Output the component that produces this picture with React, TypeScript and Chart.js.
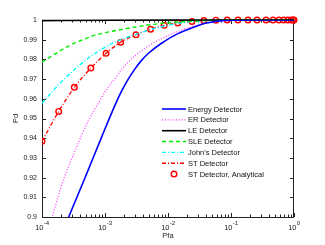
import React, { useEffect, useRef } from 'react';
import { Chart, registerables } from 'chart.js';

Chart.register(...registerables);

const FONT = '"Liberation Sans", Arial, Helvetica, sans-serif';

// ---- data (Pfa on log axis, Pd) ----
const energyPfa = [2.0e-4, 2.65e-4, 4.9e-4, 8.9e-4, 1.46e-3, 1.84e-3, 2.34e-3, 2.99e-3, 3.8e-3, 4.86e-3, 7.9e-3, 1.46e-2, 2.69e-2, 3.9e-2, 6.0e-2, 1.0e-1, 2.0e-1, 1];
const energyPd = [0.891, 0.9, 0.9205, 0.9408, 0.9572, 0.964, 0.97, 0.9752, 0.9795, 0.983, 0.9882, 0.9932, 0.9966, 0.9983, 0.9994, 0.9999, 1.0, 1.0];

const erPfa = [1.12e-4, 1.45e-4, 2.09e-4, 3.39e-4, 5.5e-4, 8.4e-4, 1.0e-3, 1.45e-3, 2.07e-3, 2.99e-3, 4.86e-3, 7.9e-3, 1.46e-2, 2.69e-2, 5.0e-2, 1.0e-1, 2.0e-1, 1];
const erPd = [0.8885, 0.9, 0.917, 0.934, 0.9492, 0.9594, 0.9635, 0.9705, 0.9768, 0.9818, 0.9868, 0.9905, 0.9943, 0.997, 0.9988, 0.9997, 1.0, 1.0];

const lePfa = [1e-4, 1e-3, 1e-2, 1e-1, 1];
const lePd = [0.9997, 0.9999, 1.0, 1.0, 1.0];

const slePfa = [1e-4, 1.62e-4, 2.63e-4, 4.9e-4, 7.4e-4, 2.34e-3, 7.9e-3, 2.69e-2, 6.3e-2, 1.6e-1, 1];
const slePd = [0.9786, 0.9828, 0.9868, 0.9905, 0.9925, 0.9958, 0.9983, 0.9995, 0.9999, 1.0, 1.0];

const johnPfa = [1e-4, 1.62e-4, 2.34e-4, 3.39e-4, 4.9e-4, 6.9e-4, 1.45e-3, 3.39e-3, 7.9e-3, 1.66e-2, 4.0e-2, 1.0e-1, 1];
const johnPd = [0.9577, 0.9653, 0.9705, 0.9753, 0.9795, 0.983, 0.9888, 0.9932, 0.9966, 0.9986, 0.9997, 1.0, 1.0];

const stPfa = [1e-4, 1.84e-4, 3.26e-4, 5.96e-4, 1.04e-3, 1.77e-3, 3.1e-3, 5.3e-3, 8.7e-3, 1.43e-2, 2.4e-2, 3.7e-2, 5.75e-2, 8.7e-2, 0.129, 0.186, 0.259, 0.36, 0.465, 0.578, 0.69, 0.8, 0.9, 0.965, 1];
const stPd = [0.9384, 0.9536, 0.9658, 0.9756, 0.9831, 0.9887, 0.9925, 0.9953, 0.9973, 0.9985, 0.9993, 0.9997, 0.9999, 1, 1, 1, 1, 1, 1, 1, 1, 1, 1, 1, 1];

const stAnaPfa = [1e-4, 1.84e-4, 3.26e-4, 5.96e-4, 1.04e-3, 1.77e-3, 3.1e-3, 5.3e-3, 8.7e-3, 1.43e-2, 2.4e-2, 3.7e-2, 5.75e-2, 8.7e-2, 0.129, 0.186, 0.259, 0.36, 0.465, 0.578, 0.69, 0.8, 0.9, 0.965, 1];
const stAnaPd = [0.9384, 0.9536, 0.9658, 0.9756, 0.9831, 0.9887, 0.9925, 0.9953, 0.9973, 0.9985, 0.9993, 0.9997, 0.9999, 1, 1, 1, 1, 1, 1, 1, 1, 1, 1, 1, 1];

const xTickExps = ['-4', '-3', '-2', '-1', '0'];
const xTickVals = [1e-4, 1e-3, 1e-2, 1e-1, 1];
const seriesNames = ['Energy Detector', 'ER Detector', 'LE Detector', 'SLE Detector', "John's Detector", 'ST Detector', 'ST Detector, Analytical'];
const xTitle = 'Pfa';
const yTitle = 'Pd';

const pts = (xs: number[], ys: number[]) => xs.map((x, i) => ({ x, y: ys[i] }));

const framePlugin = {
  id: 'matlabFrame',
  beforeDatasetsDraw(chart: any) {
    const { ctx, chartArea: a, scales } = chart;
    const x = scales.x;
    const y = scales.y;
    ctx.save();
    ctx.strokeStyle = '#222';
    ctx.lineWidth = 1;
    ctx.setLineDash([]);
    const line = (x1: number, y1: number, x2: number, y2: number) => {
      ctx.beginPath();
      ctx.moveTo(x1, y1);
      ctx.lineTo(x2, y2);
      ctx.stroke();
    };
    ctx.strokeRect(a.left + 0.5, a.top + 0.5, a.right - a.left - 1, a.bottom - a.top);
    for (let d = -4; d <= 0; d++) {
      for (let k = 1; k <= 9; k++) {
        const v = k * Math.pow(10, d);
        if (v > 1.0000001) break;
        const px = Math.round(x.getPixelForValue(v)) + 0.5;
        const len = k === 1 ? 4 : 2.5;
        line(px, a.bottom, px, a.bottom - len);
        line(px, a.top, px, a.top + len);
      }
    }
    y.ticks.forEach((t: any) => {
      const py = Math.round(y.getPixelForValue(t.value)) + 0.5;
      line(a.left, py, a.left + 4, py);
      line(a.right, py, a.right - 4, py);
    });
    ctx.restore();
  },
  afterDraw(chart: any) {
    const { ctx, chartArea: a, scales } = chart;
    const x = scales.x;
    ctx.save();
    ctx.fillStyle = '#222';
    // x tick labels 10^n
    xTickVals.forEach((v, i) => {
      const px = x.getPixelForValue(v);
      ctx.font = `7.5px ${FONT}`;
      const w1 = ctx.measureText('10').width;
      ctx.font = `6px ${FONT}`;
      const w2 = ctx.measureText(xTickExps[i]).width;
      const start = px - (w1 + w2) / 2;
      ctx.textAlign = 'left';
      ctx.textBaseline = 'alphabetic';
      ctx.font = `7.5px ${FONT}`;
      ctx.fillText('10', start, a.bottom + 12.5);
      ctx.font = `6px ${FONT}`;
      ctx.fillText(xTickExps[i], start + w1 + 0.3, a.bottom + 8);
    });
    // titles
    ctx.font = `7.5px ${FONT}`;
    ctx.textAlign = 'center';
    ctx.textBaseline = 'alphabetic';
    ctx.fillText(xTitle, (a.left + a.right) / 2, a.bottom + 21);
    ctx.save();
    ctx.translate(16, (a.top + a.bottom) / 2);
    ctx.rotate(-Math.PI / 2);
    ctx.textBaseline = 'middle';
    ctx.fillText(yTitle, 0, 0);
    ctx.restore();
    // legend
    const lx0 = a.left + 120;
    const lx1 = a.left + 144;
    const tx = a.left + 146;
    chart.data.datasets.forEach((ds: any, i: number) => {
      const ry = a.top + 89 + i * 10.85;
      ctx.save();
      if (ds.showLine === false) {
        ctx.strokeStyle = ds.pointBorderColor;
        ctx.lineWidth = ds.pointBorderWidth;
        ctx.beginPath();
        ctx.arc((lx0 + lx1) / 2, ry, ds.pointRadius, 0, Math.PI * 2);
        ctx.stroke();
      } else {
        ctx.strokeStyle = ds.borderColor;
        ctx.lineWidth = ds.borderWidth;
        ctx.setLineDash(ds.borderDash || []);
        ctx.beginPath();
        ctx.moveTo(lx0, ry);
        ctx.lineTo(lx1, ry);
        ctx.stroke();
      }
      ctx.restore();
      ctx.font = `7.5px ${FONT}`;
      ctx.textAlign = 'left';
      ctx.textBaseline = 'middle';
      ctx.fillStyle = '#111';
      ctx.fillText(ds.label, tx, ry + 0.5);
    });
    ctx.restore();
  },
};

export default function App() {
  const ref = useRef<HTMLCanvasElement>(null);
  useEffect(() => {
    const canvas = ref.current;
    if (!canvas) return;
    const topClip = { left: 0, right: 6, top: 6, bottom: 0 };
    const common = { pointRadius: 0, fill: false, cubicInterpolationMode: 'monotone' as const };
    const chart = new Chart(canvas, {
      type: 'line',
      data: {
        datasets: [
          { ...common, label: seriesNames[0], data: pts(energyPfa, energyPd), borderColor: '#0000ff', borderWidth: 1.6 },
          { ...common, label: seriesNames[1], data: pts(erPfa, erPd), borderColor: '#ff33ff', borderWidth: 1.2, borderDash: [1, 1.8] },
          { ...common, label: seriesNames[2], data: pts(lePfa, lePd), borderColor: '#000000', borderWidth: 1.6, clip: topClip },
          { ...common, label: seriesNames[3], data: pts(slePfa, slePd), borderColor: '#00ee00', borderWidth: 1.4, borderDash: [4, 3], clip: topClip },
          { ...common, label: seriesNames[4], data: pts(johnPfa, johnPd), borderColor: '#00ffff', borderWidth: 1.4, borderDash: [4, 2, 1, 2], clip: topClip },
          { ...common, label: seriesNames[5], data: pts(stPfa, stPd), borderColor: '#ff0000', borderWidth: 1.3, borderDash: [4, 2, 1, 2], clip: topClip },
          {
            label: seriesNames[6],
            data: pts(stAnaPfa, stAnaPd),
            showLine: false,
            pointRadius: 2.8,
            pointBorderWidth: 1.4,
            pointBorderColor: '#ff0000',
            pointBackgroundColor: 'rgba(0,0,0,0)',
            borderColor: '#ff0000',
            clip: topClip,
          } as any,
        ],
      },
      options: {
        responsive: false,
        animation: false,
        events: [],
        layout: { padding: { top: 20, right: 31, left: 0, bottom: 0 } },
        plugins: { legend: { display: false }, tooltip: { enabled: false } },
        scales: {
          x: {
            type: 'logarithmic',
            min: 1e-4,
            max: 1,
            grid: { display: false, drawTicks: false },
            border: { display: false },
            ticks: { display: false },
            afterFit: (s: any) => { s.height = 28; },
          },
          y: {
            type: 'linear',
            min: 0.9,
            max: 1,
            grid: { display: false, drawTicks: false },
            border: { display: false },
            ticks: {
              stepSize: 0.01,
              padding: 5,
              color: '#222',
              font: { family: FONT, size: 7 },
              callback: (v: any) => String(Number(Number(v).toFixed(2))),
            },
            afterFit: (s: any) => { s.width = 42; },
          },
        },
      },
      plugins: [framePlugin],
    });
    return () => chart.destroy();
  }, []);
  return (
    <div style={{ position: 'fixed', left: 0, top: 0, width: 325, height: 245, background: '#fff' }}>
      <canvas ref={ref} width={325} height={245} style={{ width: 325, height: 245, display: 'block' }} />
    </div>
  );
}
